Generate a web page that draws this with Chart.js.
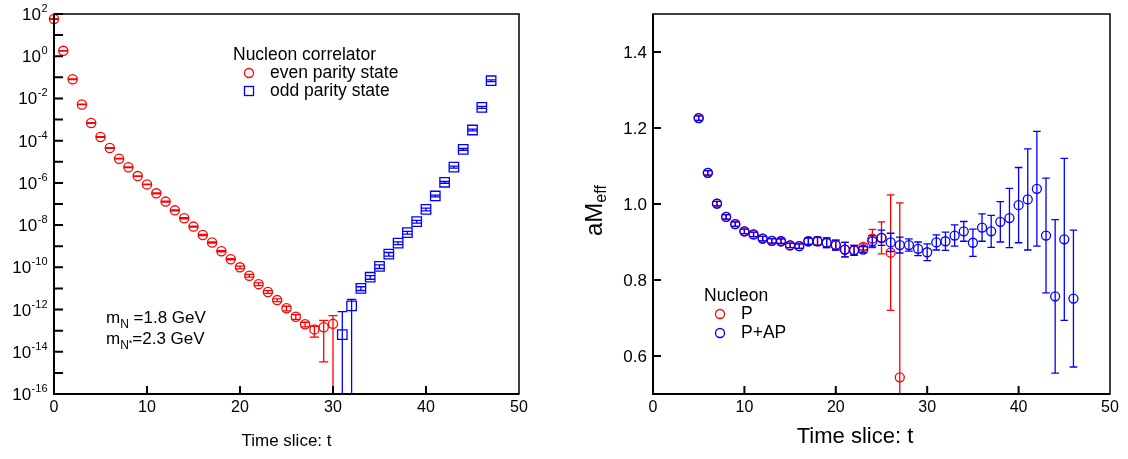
<!DOCTYPE html>
<html><head><meta charset="utf-8">
<script src="https://cdn.jsdelivr.net/npm/chart.js@4.4.1/dist/chart.umd.min.js"></script>
<style>
html,body{margin:0;padding:0;background:#fff;}
#wrap{position:relative;width:1128px;height:459px;overflow:hidden;}
canvas{position:absolute;top:0;}
</style></head><body>
<div id="wrap">
<canvas id="left" width="564" height="459" style="left:0"></canvas>
<canvas id="right" width="564" height="459" style="left:564px"></canvas>
</div>
<script>
const FONT = '"Liberation Sans", Arial, Helvetica, sans-serif';

// ---------- Left panel: nucleon correlator ----------
const evenT = [0,1,2,3,4,5,6,7,8,9,10,11,12,13,14,15,16,17,18,19,20,21,22,23,24,25,26,27,28,29,30];
const evenC = [5.8e1,1.8e0,8.1e-2,5.2e-3,6.9e-4,1.5e-4,4.5e-5,1.4e-5,5.5e-6,2.1e-6,8.5e-7,3.2e-7,1.3e-7,5.0e-8,2.1e-8,8.5e-9,3.4e-9,1.5e-9,5.8e-10,2.4e-10,1.0e-10,4.0e-11,1.6e-11,6.8e-12,2.8e-12,1.15e-12,4.6e-13,2.0e-13,1.15e-13,1.45e-13,2.1e-13];
const evenErrUp = [0.03,0.03,0.03,0.03,0.03,0.03,0.03,0.03,0.03,0.03,0.03,0.06,0.06,0.06,0.06,0.06,0.06,0.06,0.06,0.06,0.15,0.15,0.15,0.15,0.15,0.25,0.25,0.25,0.41,1.14,1.45];
const evenErrDn = [0.03,0.03,0.03,0.03,0.03,0.03,0.03,0.03,0.03,0.03,0.03,0.06,0.06,0.06,0.06,0.06,0.06,0.06,0.06,0.06,0.15,0.15,0.15,0.15,0.15,0.25,0.25,0.25,0.57,0.977,1.0];

const oddT = [31,32,33,34,35,36,37,38,39,40,41,42,43,44,45,46,47];
const oddC = [6.5e-14,1.5e-12,1.0e-11,3.4e-11,1.1e-10,4.2e-10,1.4e-9,4.4e-9,1.45e-8,5.6e-8,2.4e-7,1.07e-6,5.6e-6,3.9e-5,3.2e-4,3.8e-3,6.9e-2];
const oddErrUp = [11.3,1.04,0.2,0.2,0.2,0.2,0.15,0.15,0.15,0.15,0.1,0.1,0.1,0.1,0.1,0.1,0.1];
const oddErrDn = [1.0,1.0,0.2,0.2,0.2,0.2,0.15,0.15,0.15,0.15,0.1,0.1,0.1,0.1,0.1,0.1,0.1];

const leftXTicks = [0,10,20,30,40,50];
const leftYTickExps = [2,1,0,-1,-2,-3,-4,-5,-6,-7,-8,-9,-10,-11,-12,-13,-14,-15,-16];
const leftYLabelExps = [2,0,-2,-4,-6,-8,-10,-12,-14,-16];

// ---------- Right panel: effective mass ----------
const pT = [5,6,7,8,9,10,11,12,13,14,15,16,17,18,19,20,21,22,23,24,25,26,27];
const pM = [1.226,1.082,1.001,0.966,0.947,0.928,0.920,0.909,0.903,0.902,0.891,0.889,0.902,0.902,0.898,0.892,0.880,0.878,0.887,0.909,0.911,0.872,0.544];
const pErr = [0.006,0.006,0.006,0.006,0.006,0.006,0.006,0.006,0.006,0.006,0.006,0.006,0.008,0.011,0.013,0.013,0.019,0.013,0.008,0.024,0.042,0.152,0.459];

const papT = [5,6,7,8,9,10,11,12,13,14,15,16,17,18,19,20,21,22,23,24,25,26,27,28,29,30,31,32,33,34,35,36,37,38,39,40,41,42,43,44,45,46];
const papM = [1.226,1.082,1.001,0.966,0.947,0.928,0.920,0.909,0.903,0.902,0.891,0.889,0.902,0.902,0.898,0.892,0.880,0.878,0.880,0.902,0.911,0.899,0.892,0.892,0.882,0.873,0.899,0.902,0.917,0.928,0.898,0.938,0.928,0.953,0.963,0.997,1.012,1.040,0.917,0.757,0.907,0.751];
const papErr = [0.006,0.006,0.006,0.006,0.006,0.006,0.006,0.006,0.006,0.006,0.006,0.006,0.008,0.011,0.013,0.013,0.019,0.013,0.008,0.015,0.020,0.024,0.021,0.016,0.018,0.022,0.020,0.024,0.028,0.026,0.036,0.036,0.042,0.053,0.078,0.099,0.133,0.151,0.151,0.202,0.213,0.180];

const rightXTicks = [0,10,20,30,40,50];
const rightYTicks = [0.6,0.8,1.0,1.2,1.4];

const RED = '#ff0000', BLUE = '#0000ff';

Chart.defaults.font.family = FONT;
Chart.defaults.animation = false;

function pts(xs, ys){ return xs.map((t,i)=>({x:t, y:ys[i]})); }

const errPlugin = {
  id: 'errbars',
  beforeDatasetDraw(chart, args){
    const ds = chart.data.datasets[args.index];
    if (!ds.errFn) return;
    const {ctx, scales:{x, y}} = chart;
    ctx.save();
    ctx.strokeStyle = ds.borderColor;
    ctx.lineWidth = 1.3;
    ds.data.forEach((p, i) => {
      const [lo, hi] = ds.errFn(i);
      const px = x.getPixelForValue(p.x);
      const clipLo = lo <= y.min;
      const clipHi = hi >= y.max;
      const yHi = y.getPixelForValue(clipHi ? y.max : hi);
      const yLo = y.getPixelForValue(clipLo ? y.min : lo);
      const c = ds.cap;
      ctx.beginPath();
      ctx.moveTo(px, yHi); ctx.lineTo(px, yLo);
      if (!clipHi){ ctx.moveTo(px-c, yHi); ctx.lineTo(px+c, yHi); }
      if (!clipLo){ ctx.moveTo(px-c, yLo); ctx.lineTo(px+c, yLo); }
      ctx.stroke();
    });
    ctx.restore();
  }
};

function frame(ctx, a){
  ctx.strokeStyle = '#000';
  ctx.lineWidth = 1.5;
  ctx.strokeRect(a.left, a.top, a.right - a.left, a.bottom - a.top);
  ctx.lineWidth = 2;
  ctx.beginPath();
  ctx.moveTo(a.left, a.top); ctx.lineTo(a.left, a.bottom); ctx.lineTo(a.right, a.bottom);
  ctx.stroke();
}

const leftDeco = {
  id: 'leftDeco',
  afterDraw(chart){
    const {ctx, chartArea:a, scales:{x, y}} = chart;
    ctx.save();
    frame(ctx, a);
    ctx.lineWidth = 2;
    ctx.beginPath();
    leftYTickExps.forEach(k => { const py = y.getPixelForValue(Math.pow(10, k)); ctx.moveTo(a.left, py); ctx.lineTo(a.left + 9, py); });
    leftXTicks.forEach(v => { if (v > x.min && v < x.max){ const px = x.getPixelForValue(v); ctx.moveTo(px, a.bottom); ctx.lineTo(px, a.bottom - 8); } });
    ctx.stroke();
    ctx.fillStyle = '#000';
    ctx.font = '16px ' + FONT; ctx.textAlign = 'center'; ctx.textBaseline = 'middle';
    leftXTicks.forEach(v => ctx.fillText(String(v), x.getPixelForValue(v), 408));
    ctx.textAlign = 'left'; ctx.textBaseline = 'alphabetic';
    leftYLabelExps.forEach(k => {
      const py = y.getPixelForValue(Math.pow(10, k));
      ctx.font = '11px ' + FONT; const e = String(k); const we = ctx.measureText(e).width;
      ctx.font = '17px ' + FONT; const wb = ctx.measureText('10').width;
      const x0 = 47 - we - wb;
      ctx.fillText('10', x0, py + 6);
      ctx.font = '11px ' + FONT; ctx.fillText(e, x0 + wb + 0.5, py - 2);
    });
    ctx.font = '17px ' + FONT; ctx.textAlign = 'center'; ctx.textBaseline = 'middle';
    ctx.fillText('Time slice: t', (a.left + a.right) / 2, 441);
    ctx.font = '17.5px ' + FONT;
    ctx.textAlign = 'left';
    ctx.fillText('Nucleon correlator', 233, 55);
    ctx.fillText('even parity state', 270, 73);
    ctx.fillText('odd parity state', 270, 91);
    ctx.lineWidth = 1.3;
    ctx.strokeStyle = RED; ctx.beginPath(); ctx.arc(249, 73, 4.5, 0, Math.PI*2); ctx.stroke();
    ctx.strokeStyle = BLUE; ctx.strokeRect(244.5, 86.5, 9, 9);
    ctx.fillStyle = '#000'; ctx.textBaseline = 'alphabetic';
    let cx = 106;
    ctx.font = '17px ' + FONT; ctx.fillText('m', cx, 323); cx += ctx.measureText('m').width;
    ctx.font = '12px ' + FONT; ctx.fillText('N', cx, 328); cx += ctx.measureText('N').width;
    ctx.font = '17px ' + FONT; ctx.fillText(' =1.8 GeV', cx, 323);
    cx = 106;
    ctx.fillText('m', cx, 344); cx += ctx.measureText('m').width;
    ctx.font = '12px ' + FONT; ctx.fillText('N', cx, 349); cx += ctx.measureText('N').width;
    ctx.font = '9px ' + FONT; ctx.fillText('*', cx, 346); cx += ctx.measureText('*').width;
    ctx.font = '17px ' + FONT; ctx.fillText('=2.3 GeV', cx, 344);
    ctx.restore();
  }
};

new Chart(document.getElementById('left'), {
  type: 'scatter',
  data: { datasets: [
    { label: 'even parity state', data: pts(evenT, evenC), borderColor: RED, backgroundColor: 'rgba(0,0,0,0)',
      pointStyle: 'circle', pointRadius: 4.6, pointBorderWidth: 1.3, clip: false, cap: 4.6,
      errFn: i => [evenC[i] * (1 - evenErrDn[i]), evenC[i] * (1 + evenErrUp[i])] },
    { label: 'odd parity state', data: pts(oddT, oddC), borderColor: BLUE, backgroundColor: 'rgba(0,0,0,0)',
      pointStyle: 'rect', pointRadius: 6.7, pointBorderWidth: 1.3, clip: false, cap: 4.7,
      errFn: i => [oddC[i] * (1 - oddErrDn[i]), oddC[i] * (1 + oddErrUp[i])] }
  ]},
  options: {
    responsive: false, devicePixelRatio: 1,
    layout: { padding: { left: 54, right: 45, top: 14, bottom: 65 } },
    plugins: { legend: { display: false }, tooltip: { enabled: false } },
    scales: {
      x: { type: 'linear', min: 0, max: 50, display: false },
      y: { type: 'logarithmic', min: 1e-16, max: 1e2, display: false }
    }
  },
  plugins: [errPlugin, leftDeco]
});

const rightDeco = {
  id: 'rightDeco',
  afterDraw(chart){
    const {ctx, chartArea:a, scales:{x, y}} = chart;
    ctx.save();
    frame(ctx, a);
    ctx.lineWidth = 2;
    ctx.beginPath();
    rightYTicks.forEach(v => { const py = y.getPixelForValue(v); ctx.moveTo(a.left, py); ctx.lineTo(a.left + 8, py); });
    rightXTicks.forEach(v => { if (v > x.min && v < x.max){ const px = x.getPixelForValue(v); ctx.moveTo(px, a.bottom); ctx.lineTo(px, a.bottom - 8); } });
    ctx.stroke();
    ctx.fillStyle = '#000';
    ctx.font = '16px ' + FONT; ctx.textAlign = 'center'; ctx.textBaseline = 'middle';
    rightXTicks.forEach(v => ctx.fillText(String(v), x.getPixelForValue(v), 408));
    ctx.font = '17px ' + FONT; ctx.textAlign = 'right';
    rightYTicks.forEach(v => ctx.fillText(v.toFixed(1), a.left - 6, y.getPixelForValue(v) + 1));
    ctx.font = '22px ' + FONT; ctx.textAlign = 'center';
    ctx.fillText('Time slice: t', 291, 437);
    ctx.save();
    ctx.translate(38, 236); ctx.rotate(-Math.PI/2);
    ctx.textAlign = 'left'; ctx.textBaseline = 'alphabetic';
    ctx.font = '24px ' + FONT; ctx.fillText('aM', 0, 0); const w = ctx.measureText('aM').width;
    ctx.font = '16px ' + FONT; ctx.fillText('eff', w, 4);
    ctx.restore();
    ctx.font = '17.5px ' + FONT; ctx.textAlign = 'left'; ctx.textBaseline = 'middle';
    ctx.fillText('Nucleon', 140, 296);
    ctx.fillText('P', 177, 314);
    ctx.fillText('P+AP', 177, 333);
    ctx.lineWidth = 1.3;
    ctx.strokeStyle = RED; ctx.beginPath(); ctx.arc(156, 314, 4.5, 0, Math.PI*2); ctx.stroke();
    ctx.strokeStyle = BLUE; ctx.beginPath(); ctx.arc(156, 333, 4.5, 0, Math.PI*2); ctx.stroke();
    ctx.restore();
  }
};

new Chart(document.getElementById('right'), {
  type: 'scatter',
  data: { datasets: [
    { label: 'P', data: pts(pT, pM), borderColor: RED, backgroundColor: 'rgba(0,0,0,0)', order: 2,
      pointStyle: 'circle', pointRadius: 4.5, pointBorderWidth: 1.3, clip: false, cap: 3.8,
      errFn: i => [pM[i] - pErr[i], pM[i] + pErr[i]] },
    { label: 'P+AP', data: pts(papT, papM), borderColor: BLUE, backgroundColor: 'rgba(0,0,0,0)', order: 1,
      pointStyle: 'circle', pointRadius: 4.5, pointBorderWidth: 1.3, clip: false, cap: 3.8,
      errFn: i => [papM[i] - papErr[i], papM[i] + papErr[i]] }
  ]},
  options: {
    responsive: false, devicePixelRatio: 1,
    layout: { padding: { left: 89, right: 18, top: 14, bottom: 65 } },
    plugins: { legend: { display: false }, tooltip: { enabled: false } },
    scales: {
      x: { type: 'linear', min: 0, max: 50, display: false },
      y: { type: 'linear', min: 0.5, max: 1.5, display: false }
    }
  },
  plugins: [errPlugin, rightDeco]
});
</script>
</body></html>
